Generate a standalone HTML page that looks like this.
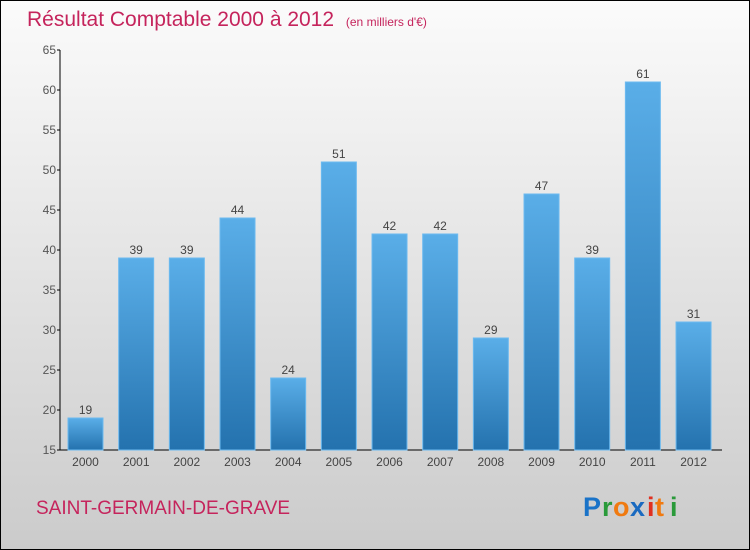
<!DOCTYPE html>
<html><head><meta charset="utf-8"><style>
html,body{margin:0;padding:0}
body{width:750px;height:550px;overflow:hidden;font-family:"Liberation Sans",sans-serif}
#wrap{position:absolute;left:0;top:0;width:748px;height:548px;border:1px solid #000;background:linear-gradient(#fbfbfb,#cbcbcb)}
</style></head><body>
<div id="wrap">
<svg width="750" height="550" style="position:absolute;left:-1px;top:-1px">
<defs><linearGradient id="bg" x1="0" y1="0" x2="0" y2="1"><stop offset="0" stop-color="#5aaee8"/><stop offset="1" stop-color="#2472ae"/></linearGradient></defs>
<text x="27" y="26" font-size="21" fill="#c5245c">Résultat Comptable 2000 à 2012 <tspan font-size="12" dx="6">(en milliers d'€)</tspan></text>
<g id="axes"></g><g id="bars"></g>
<text x="36" y="514" font-size="19" fill="#c5245c">SAINT-GERMAIN-DE-GRAVE</text>
<g font-size="27" font-weight="bold" font-family="Liberation Sans,sans-serif">
<text x="583" y="516" fill="#1a73c8">P</text><text x="602" y="516" fill="#2a9a3a">r</text><text x="613" y="516" fill="#f07a10">o</text><text x="630" y="516" fill="#1a6ac0">x</text><text x="647" y="516" fill="#e03020">i</text><text x="655" y="516" fill="#f07a10">t</text><text x="670" y="516" fill="#2a9a3a">i</text>
</g>
</svg></div>
<script>
const years=["2000","2001","2002","2003","2004","2005","2006","2007","2008","2009","2010","2011","2012"];
const values=[19,39,39,44,24,51,42,42,29,47,39,61,31];
const yTicks=[15,20,25,30,35,40,45,50,55,60,65];
const NS="http://www.w3.org/2000/svg";
const y0=450,y1=50,vmin=15,vmax=65,x0=60,step=50.67,bw=35;
function Y(v){return y0-(v-vmin)/(vmax-vmin)*(y0-y1);}
function X(i){return 85.5+i*step;}
function mk(t,a,p){const e=document.createElementNS(NS,t);for(const k in a)e.setAttribute(k,a[k]);p.appendChild(e);return e;}
const ax=document.getElementById('axes'),bars=document.getElementById('bars');
let l=mk('line',{x1:x0,y1:y1,x2:x0,y2:y0,stroke:'#000'},ax);


l=mk('line',{x1:x0,y1:y0,x2:722,y2:y0,stroke:'#000'},ax);


yTicks.forEach(v=>{
 mk('line',{x1:x0-3,y1:Y(v),x2:x0,y2:Y(v),stroke:'#000'},ax);
 const t=mk('text',{x:x0-4,y:Y(v)+4,'text-anchor':'end','font-size':12,fill:'#555'},ax);
 t.textContent=v;
 
 
});
years.forEach((yr,i)=>{
 const v=values[i],cx=X(i);
 const r=mk('rect',{x:cx-bw/2,y:Y(v),width:bw,height:y0-Y(v),fill:'url(#bg)',stroke:'#6cbaf0','stroke-width':1},bars);
 
 
 const t=mk('text',{x:cx,y:Y(v)-4,'text-anchor':'middle','font-size':12,fill:'#444'},bars);
 t.textContent=v;
 
 
 const x=mk('text',{x:cx,y:466,'text-anchor':'middle','font-size':12,fill:'#444'},ax);
 x.textContent=yr;
 
 
});
</script>
</body></html>
